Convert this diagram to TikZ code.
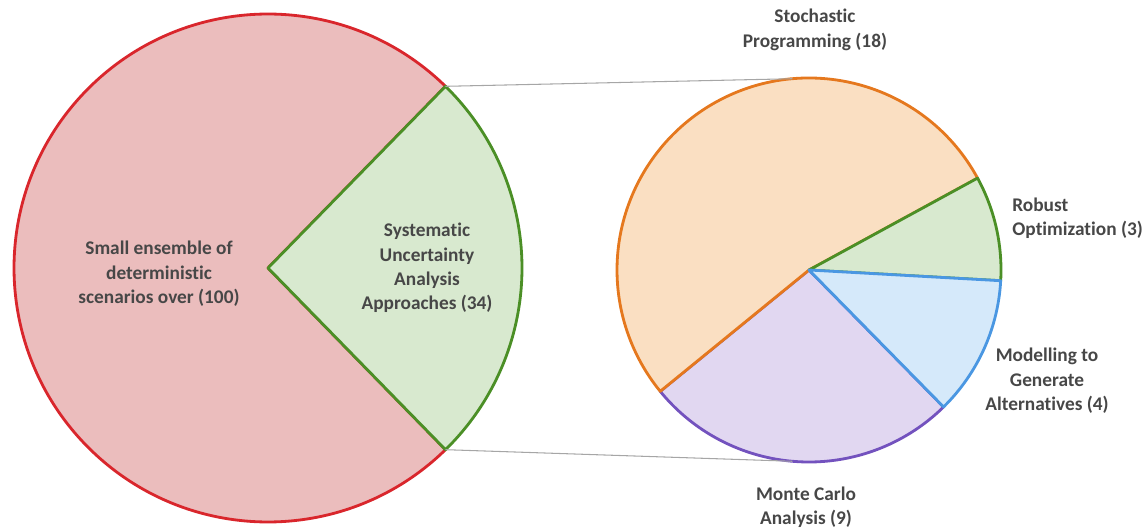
\documentclass[tikz,border=0pt]{standalone}
\usepackage{fontspec}
\setmainfont{Carlito}[Ligatures=NoCommon]
\usepackage{xcolor}
\usetikzlibrary{calc}

\definecolor{redline}{HTML}{D9262C}
\definecolor{redfill}{HTML}{EBBDBD}
\definecolor{greenline}{HTML}{4B8F26}
\definecolor{greenfill}{HTML}{D8E9CF}
\definecolor{orangeline}{HTML}{E5781E}
\definecolor{orangefill}{HTML}{FADFC2}
\definecolor{blueline}{HTML}{4A97E2}
\definecolor{bluefill}{HTML}{D5E9FA}
\definecolor{purpleline}{HTML}{7352BE}
\definecolor{purplefill}{HTML}{E1D7F1}
\definecolor{labelgray}{HTML}{474747}

\begin{document}
\begin{tikzpicture}[x=0.02cm, y=0.02cm,
    slice/.style={line width=1.6pt, line join=round},
    pielabel/.style={font=\fontsize{11}{13.9}\selectfont\bfseries, text=labelgray, align=center, inner sep=0pt},
    zoomline/.style={gray!70, line width=0.6pt}]
\useasboundingbox (0,0) rectangle (1145,528);

% Centros de los dos pasteles
\coordinate (big) at (268,260);
\coordinate (small) at (809,258);

% Pastel grande: escenarios deterministas (100) y enfoques sistematicos (34)
\draw[slice, redline, fill=redfill] (big) -- ++(45.67:254) arc[start angle=45.67, end angle=314.33, radius=254] -- cycle;
\draw[slice, greenline, fill=greenfill] (big) -- ++(-45.67:254) arc[start angle=-45.67, end angle=45.67, radius=254] -- cycle;

% Esquinas de la cuña
\coordinate (wtop) at ($(big)+(45.67:254)$);
\coordinate (wbot) at ($(big)+(-45.67:254)$);

% Pastel pequeño: desglose de los 34 enfoques
\draw[slice, purpleline, fill=purplefill] (small) -- ++(-140.8:192) arc[start angle=-140.8, end angle=-45.5, radius=192] -- cycle;
\draw[slice, orangeline, fill=orangefill] (small) -- ++(28.6:192) arc[start angle=28.6, end angle=219.2, radius=192] -- cycle;
\draw[slice, greenline, fill=greenfill] (small) -- ++(-3.2:192) arc[start angle=-3.2, end angle=28.6, radius=192] -- cycle;
\draw[slice, blueline, fill=bluefill] (small) -- ++(-45.5:192) arc[start angle=-45.5, end angle=-3.2, radius=192] -- cycle;

% Puntos de llegada de las lineas de zoom
\coordinate (ztop) at ($(small)+(95:192)$);
\coordinate (zbot) at ($(small)+(-95:192)$);

% Lineas de zoom
\draw[zoomline] (wtop) -- (ztop);
\draw[zoomline] (wbot) -- (zbot);

% Etiquetas
\node[pielabel] (lbig) at (159,254) {Small ensemble of\\deterministic\\scenarios over (100)};
\node[pielabel] (lsys) at (427,260) {Systematic\\Uncertainty\\Analysis\\Approaches (34)};
\node[pielabel] (lstoch) at (815,498) {Stochastic\\Programming (18)};
\node[pielabel, anchor=west, align=left] (lrob) at (1012,310) {Robust\\Optimization (3)};
\node[pielabel] (lmga) at (1047,147) {Modelling to\\Generate\\Alternatives (4)};
\node[pielabel] (lmc) at (806,21) {Monte Carlo\\Analysis (9)};

\end{tikzpicture}
\end{document}
